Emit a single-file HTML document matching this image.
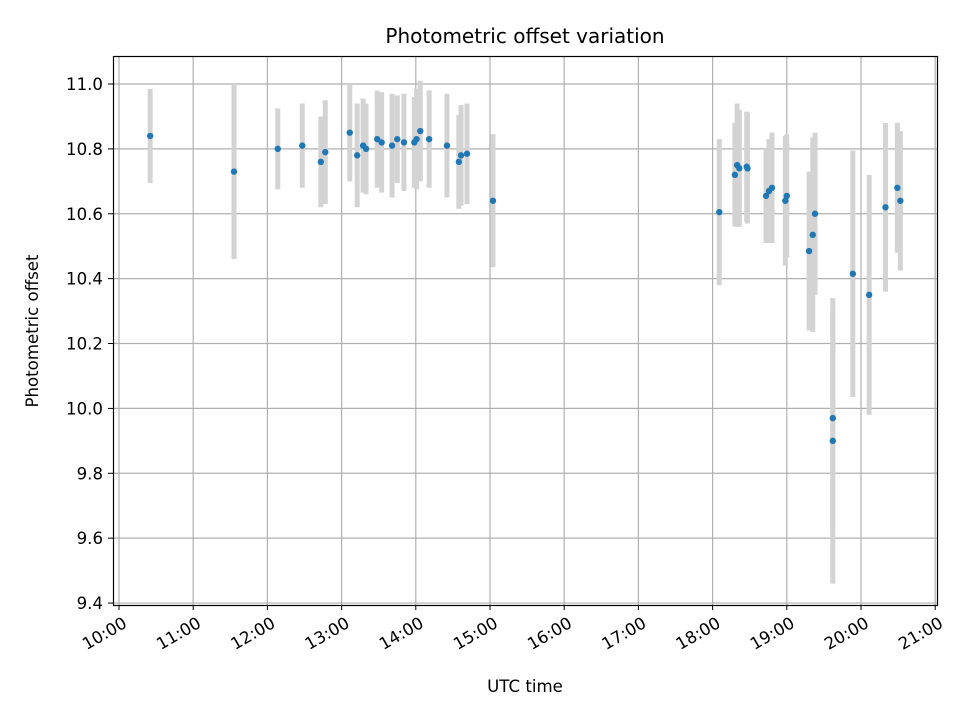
<!DOCTYPE html>
<html><head><meta charset="utf-8"><style>
body{margin:0;background:#fff}
svg text{font-family:"DejaVu Sans","Liberation Sans",sans-serif;fill:#000}
</style></head><body>
<svg id="c" width="960" height="720" viewBox="0 0 960 720">
<rect width="960" height="720" fill="#fff"/>
<g id="grid"></g>
<g id="bars"></g>
<g id="pts"></g>
<rect x="113.5" y="56.5" width="824" height="549" fill="none" stroke="#000" stroke-width="1.2"/>
<g id="axes"></g>
<text x="525" y="43" font-size="20px" text-anchor="middle">Photometric offset variation</text>
<text x="525" y="692" font-size="16.6px" text-anchor="middle">UTC time</text>
<text transform="translate(38,331) rotate(-90)" font-size="16.6px" text-anchor="middle">Photometric offset</text>
</svg>
<script>
const times=[10.42,11.55,12.14,12.47,12.72,12.78,13.11,13.21,13.29,13.33,13.48,13.54,13.68,13.75,13.84,13.98,14.01,14.06,14.18,14.42,14.58,14.61,14.69,15.04,
18.09,18.30,18.33,18.36,18.46,18.47,18.72,18.76,18.80,18.98,19.00,19.30,19.35,19.38,19.62,19.62,19.89,20.11,20.33,20.49,20.53];
const values=[10.84,10.73,10.80,10.81,10.76,10.79,10.85,10.78,10.81,10.80,10.83,10.82,10.81,10.83,10.82,10.82,10.83,10.855,10.83,10.81,10.76,10.78,10.785,10.64,
10.605,10.72,10.75,10.74,10.745,10.74,10.655,10.67,10.68,10.64,10.655,10.485,10.535,10.60,9.97,9.90,10.415,10.35,10.62,10.68,10.64];
const errors=[0.145,0.27,0.125,0.13,0.14,0.16,0.15,0.16,0.145,0.14,0.15,0.155,0.16,0.135,0.15,0.14,0.155,0.155,0.15,0.16,0.145,0.155,0.155,0.205,
0.225,0.16,0.19,0.18,0.17,0.17,0.145,0.16,0.17,0.2,0.19,0.245,0.3,0.25,0.34,0.44,0.38,0.37,0.26,0.2,0.215];
const xTicks=[10,11,12,13,14,15,16,17,18,19,20,21];
const xTickLabels=["10:00","11:00","12:00","13:00","14:00","15:00","16:00","17:00","18:00","19:00","20:00","21:00"];
const yTicks=[9.4,9.6,9.8,10.0,10.2,10.4,10.6,10.8,11.0];
const yTickLabels=["9.4","9.6","9.8","10.0","10.2","10.4","10.6","10.8","11.0"];
const NS="http://www.w3.org/2000/svg";
const X=h=>119+(h-10)*74.2;
const Y=v=>84+(11-v)*324.4;
function mk(tag,parent,attrs){const e=document.createElementNS(NS,tag);for(const k in attrs)e.setAttribute(k,attrs[k]);document.getElementById(parent).appendChild(e);return e;}
xTicks.forEach((t,i)=>{
  const x=X(t);
  const g=mk('line','grid',{x1:x,x2:x,y1:56,y2:605,stroke:'#b0b0b0','stroke-width':1.2});
  
  
  const tk=mk('line','axes',{x1:x,x2:x,y1:605,y2:610,stroke:'#000','stroke-width':1});
  
  
  const tx=mk('text','axes',{transform:`translate(${x+3},${616}) rotate(-30)`,'font-size':'16.6px','text-anchor':'end','dominant-baseline':'hanging'});
  tx.textContent=xTickLabels[i];
  
  
});
yTicks.forEach((t,i)=>{
  const y=Y(t);
  const g=mk('line','grid',{x1:113,x2:937,y1:y,y2:y,stroke:'#b0b0b0','stroke-width':1.2});
  
  
  const tk=mk('line','axes',{x1:108,x2:113,y1:y,y2:y,stroke:'#000','stroke-width':1});
  
  
  const tx=mk('text','axes',{x:103,y:y+6,'font-size':'16.6px','text-anchor':'end'});
  tx.textContent=yTickLabels[i];
  
  
});
times.forEach((t,i)=>{
  const x=X(t);
  const b=mk('line','bars',{x1:x,x2:x,y1:Y(values[i]+errors[i]),y2:Y(values[i]-errors[i]),stroke:'#d3d3d3','stroke-width':5});
  
  
  const p=mk('circle','pts',{cx:x,cy:Y(values[i]),r:3.2,fill:'#1f77b4'});
  
  
});
</script>
</body></html>
